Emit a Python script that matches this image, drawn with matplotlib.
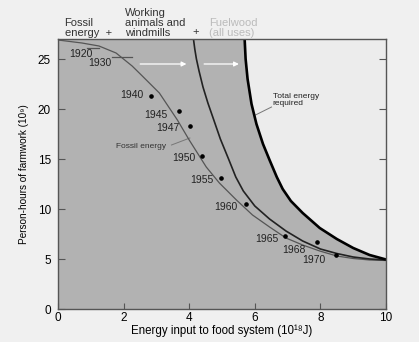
import matplotlib.pyplot as plt

plt.rcParams["font.family"] = ["Liberation Sans", "DejaVu Sans"]

# curves (x: 10^18 J, y: 10^9 person-hours)
fossil_x = [0, 0.73, 1.25, 1.77, 2.26, 2.57, 3.09, 3.64, 4.0, 4.52, 4.92,
            5.44, 5.93, 6.45, 6.95, 7.46, 7.98, 8.5, 9.0, 9.5, 10]
fossil_y = [26.9, 26.6, 26.3, 25.6, 24.3, 23.3, 21.6, 18.9, 16.9, 14.2, 12.6,
            10.9, 9.4, 8.2, 7.1, 6.4, 5.8, 5.3, 5.05, 4.9, 4.85]

animals_x = [4.13, 4.17, 4.22, 4.3, 4.42, 4.57, 4.75, 4.95, 5.2, 5.42, 5.65,
             6.0, 6.45, 6.95, 7.46, 8.0, 8.5, 9.0, 9.5, 10]
animals_y = [27, 26, 25, 23.8, 22.2, 20.6, 18.9, 17, 15, 13.2, 11.8,
             10.3, 9.0, 7.8, 6.8, 6.0, 5.55, 5.2, 5.0, 4.9]

total_x = [5.69, 5.72, 5.78, 5.9, 6.05, 6.25, 6.45, 6.67, 6.85, 7.1, 7.46,
           7.98, 8.5, 9.0, 9.5, 10]
total_y = [27, 25, 23, 20.5, 18.5, 16.5, 14.9, 13.2, 12.0, 10.8, 9.6,
           8.1, 7.0, 6.1, 5.4, 4.95]

# yearly observations
years = ["1940", "1945", "1947", "1950", "1955", "1960", "1965", "1968", "1970"]
year_x = [2.84, 3.70, 4.03, 4.40, 4.97, 5.72, 6.91, 7.91, 8.47]
year_y = [21.3, 19.8, 18.3, 15.3, 13.1, 10.5, 7.3, 6.7, 5.4]
label_x = [2.24, 2.97, 3.34, 3.83, 4.38, 5.11, 6.37, 7.19, 7.80]
label_y = [21.4, 19.4, 18.1, 15.1, 12.9, 10.2, 7.0, 5.9, 4.9]

# early years shown as short bars
early_years = ["1920", "1930"]
early_x0 = [0.89, 1.65]
early_x1 = [1.25, 2.26]
early_y = [26.1, 25.2]
early_lx = [0.71, 1.27]
early_ly = [25.5, 24.6]

x_ticks = [0, 2, 4, 6, 8, 10]
y_ticks = [0, 5, 10, 15, 20, 25]

GRAY = "#b2b2b2"
LIGHT = "#ececec"

fig = plt.figure(figsize=(4.19, 3.42), dpi=100, facecolor="#f0f0f0")
ax = fig.add_axes([58 / 419, 1 - 309 / 342, 328 / 419, 270 / 342])
ax.set_facecolor(GRAY)
ax.set_xlim(0, 10)
ax.set_ylim(0, 27)

# light area right of the total-energy curve
ax.fill(total_x + [10], total_y + [27], color=LIGHT, lw=0, zorder=1)

line_kw = dict(solid_joinstyle="round", solid_capstyle="round", zorder=3)
ax.plot(fossil_x, fossil_y, color="#555555", lw=0.9, **line_kw)
ax.plot(animals_x, animals_y, color="#222222", lw=1.2, **line_kw)
ax.plot(total_x, total_y, color="black", lw=1.9, **line_kw)

ax.plot(year_x, year_y, "o", color="black", ms=2.3, zorder=4)
for lab, lx, ly in zip(years, label_x, label_y):
    ax.text(lx, ly, lab, fontsize=7.5, ha="center", va="center", color="#222222")

for lab, x0, x1, y, lx, ly in zip(early_years, early_x0, early_x1, early_y,
                                  early_lx, early_ly):
    ax.plot([x0, x1], [y, y], color="#555555", lw=0.9, zorder=3)
    ax.text(lx, ly, lab, fontsize=7.5, ha="center", va="center", color="#222222")

# light arrows along the top
for x0, x1 in [(2.42, 4.0), (4.37, 5.6)]:
    ax.annotate("", xy=(x1, 24.5), xytext=(x0, 24.5),
                arrowprops=dict(arrowstyle="-|>", color="white", lw=0.9,
                                mutation_scale=7), zorder=4)

# curve labels
ax.text(2.52, 16.3, "Fossil energy", fontsize=6, ha="center", va="center",
        color="#333333")
ax.plot([3.46, 4.02], [16.4, 17.1], color="#777777", lw=0.7)
ax.text(6.54, 21.6, "Total energy\nrequired", fontsize=6, ha="left", va="top",
        color="#222222", linespacing=1.0)
ax.plot([6.51, 6.02], [20.2, 19.4], color="#777777", lw=0.7)

# header above the plot
head_kw = dict(fontsize=8, va="bottom", linespacing=0.95, clip_on=False)
ax.text(0.2, 27.15, "Fossil\nenergy  +", ha="left", color="#333333", **head_kw)
ax.text(2.03, 27.15, "Working\nanimals and\nwindmills", ha="left",
        color="#333333", **head_kw)
ax.text(4.2, 27.15, "+", ha="center", color="#333333", **head_kw)
ax.text(4.6, 27.15, "Fuelwood\n(all uses)", ha="left", color="#bbbbbb",
        **head_kw)

ax.set_xticks(x_ticks)
ax.set_yticks(y_ticks)
ax.tick_params(axis="x", direction="in", length=4, pad=2, labelsize=8.5,
               color="#555555")
ax.tick_params(axis="y", direction="in", length=5, pad=5, labelsize=8.5,
               color="#555555", right=True)
for s in ax.spines.values():
    s.set_color("#555555")
    s.set_linewidth(1.0)
    s.set_zorder(5)

ax.set_xlabel("Energy input to food system (10¹⁸J)", fontsize=8.3)
ax.xaxis.set_label_coords(0.5, -0.058)
ax.set_ylabel("Person-hours of farmwork (10⁹)", fontsize=7.2, labelpad=6)

fig.savefig("out.png", dpi=100, facecolor=fig.get_facecolor())
